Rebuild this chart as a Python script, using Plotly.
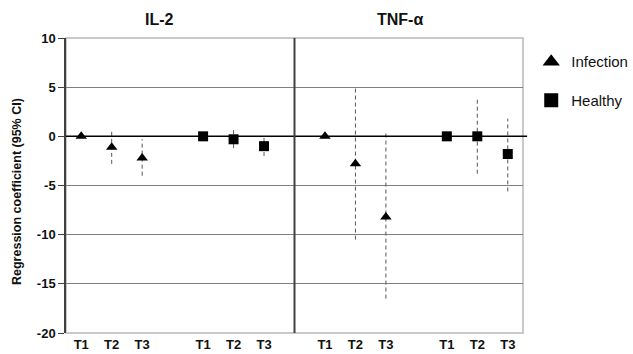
import plotly.graph_objects as go

# ---- data ----
timepoints = ["T1", "T2", "T3"]
panels = ["IL-2", "TNF-α"]

il2_infection_est = [0.0, -1.1, -2.2]
il2_infection_lo = [None, -2.8, -4.0]
il2_infection_hi = [None, 0.6, -0.3]

il2_healthy_est = [0.0, -0.3, -1.0]
il2_healthy_lo = [None, -1.2, -2.0]
il2_healthy_hi = [None, 0.9, 0.0]

tnf_infection_est = [0.0, -2.8, -8.2]
tnf_infection_lo = [None, -10.5, -16.5]
tnf_infection_hi = [None, 5.1, 0.3]

tnf_healthy_est = [0.0, 0.0, -1.8]
tnf_healthy_lo = [None, -3.8, -5.6]
tnf_healthy_hi = [None, 3.8, 1.8]

y_ticks = [-20, -15, -10, -5, 0, 5, 10]
y_ticklabels = ["-20", "-15", "-10", "-5", "0", "5", "10"]

# ---- layout helpers ----
panel_offset = {"IL-2": 0, "TNF-α": 8}
group_offset = {"Infection": 0, "Healthy": 4}

series = [
    ("Infection", "IL-2", il2_infection_est, il2_infection_lo, il2_infection_hi),
    ("Infection", "TNF-α", tnf_infection_est, tnf_infection_lo, tnf_infection_hi),
    ("Healthy", "IL-2", il2_healthy_est, il2_healthy_lo, il2_healthy_hi),
    ("Healthy", "TNF-α", tnf_healthy_est, tnf_healthy_lo, tnf_healthy_hi),
]

symbols = {"Infection": "triangle-up", "Healthy": "square"}
sizes = {"Infection": 10, "Healthy": 10}
legend_sizes = {"Infection": 15, "Healthy": 14}

FONT = "Liberation Sans, Arial, sans-serif"
fig = go.Figure()

# dashed CI lines
for grp in ["Infection", "Healthy"]:
    xs, ys = [], []
    for g, p, est, lo, hi in series:
        if g != grp:
            continue
        for i in range(len(est)):
            if lo[i] is None:
                continue
            x = panel_offset[p] + group_offset[g] + i
            xs += [x, x, None]
            ys += [lo[i], hi[i], None]
    fig.add_trace(go.Scatter(x=xs, y=ys, mode="lines",
                             line=dict(color="#555555", width=1, dash="4px,3px"),
                             showlegend=False, hoverinfo="skip"))

# points
for grp in ["Infection", "Healthy"]:
    xs, ys = [], []
    for g, p, est, lo, hi in series:
        if g != grp:
            continue
        for i in range(len(est)):
            xs.append(panel_offset[p] + group_offset[g] + i)
            ys.append(est[i])
    fig.add_trace(go.Scatter(x=xs, y=ys, mode="markers", name=grp,
                             showlegend=False,
                             marker=dict(symbol=symbols[grp], size=sizes[grp],
                                         color="black", line=dict(width=0))))
    # legend entry (larger symbol as in the reference)
    fig.add_trace(go.Scatter(x=[None], y=[None], mode="markers", name=grp,
                             legendgroup=grp,
                             marker=dict(symbol=symbols[grp], size=legend_sizes[grp],
                                         color="black", line=dict(width=0))))

tickvals, ticktext = [], []
for p in panels:
    for g in ["Infection", "Healthy"]:
        for i, t in enumerate(timepoints):
            tickvals.append(panel_offset[p] + group_offset[g] + i)
            ticktext.append(t)

# shapes: border, zero line, divider
shapes = [
    dict(type="rect", xref="paper", yref="paper", x0=0, x1=1, y0=0, y1=1,
         line=dict(color="#b8b8b8", width=1.5), layer="below"),
    dict(type="line", xref="paper", yref="y", x0=0, x1=1.009, y0=0, y1=0,
         line=dict(color="black", width=1.5)),
    dict(type="line", xref="x", yref="paper", x0=7, x1=7, y0=0, y1=1,
         line=dict(color="#404040", width=2)),
]

annotations = [
    dict(text="<b>IL-2</b>", x=(159 - 66) / 457, y=1.064, xref="paper", yref="paper",
         xanchor="center", yanchor="middle",
         showarrow=False, font=dict(size=16, color="#111", family=FONT)),
    dict(text="<b>TNF-α</b>", x=(400 - 66) / 457, y=1.064, xref="paper", yref="paper",
         xanchor="center", yanchor="middle",
         showarrow=False, font=dict(size=16, color="#111", family=FONT)),
    dict(text="<b>Regression coefficient (95% CI)</b>", x=(17 - 66) / 457, y=0.478,
         xref="paper", yref="paper", textangle=-90, showarrow=False,
         xanchor="center", yanchor="middle",
         font=dict(size=12.5, color="#111", family=FONT)),
]

fig.update_layout(
    width=633, height=354,
    margin=dict(l=66, r=110, t=38, b=21, autoexpand=False),
    paper_bgcolor="white", plot_bgcolor="white",
    font=dict(family=FONT, color="#111"),
    shapes=shapes, annotations=annotations,
    legend=dict(x=1.018, y=0.975, xanchor="left", yanchor="top",
                font=dict(size=15, family=FONT, color="#111"),
                tracegroupgap=16, traceorder="grouped",
                bgcolor="rgba(0,0,0,0)"),
    xaxis=dict(range=[-0.5, 14.5], tickvals=tickvals, ticktext=ticktext,
               showgrid=False, zeroline=False, showline=False, ticks="",
               tickfont=dict(size=13, family=FONT, color="#111", weight="bold"),
               ticklabelstandoff=2, fixedrange=True, automargin=False),
    yaxis=dict(range=[-20, 10], tickvals=y_ticks, ticktext=y_ticklabels,
               showgrid=True,
               gridcolor="#808080", gridwidth=1, zeroline=False,
               showline=True, linecolor="#404040", linewidth=1.5,
               ticks="outside", ticklen=6, tickcolor="#404040",
               tickfont=dict(size=13, family=FONT, color="#111", weight="bold"),
               fixedrange=True, automargin=False),
)

fig.write_html("out.html", config={"displayModeBar": False},
               post_script="document.body.style.margin='0';document.body.style.overflow='hidden';")
